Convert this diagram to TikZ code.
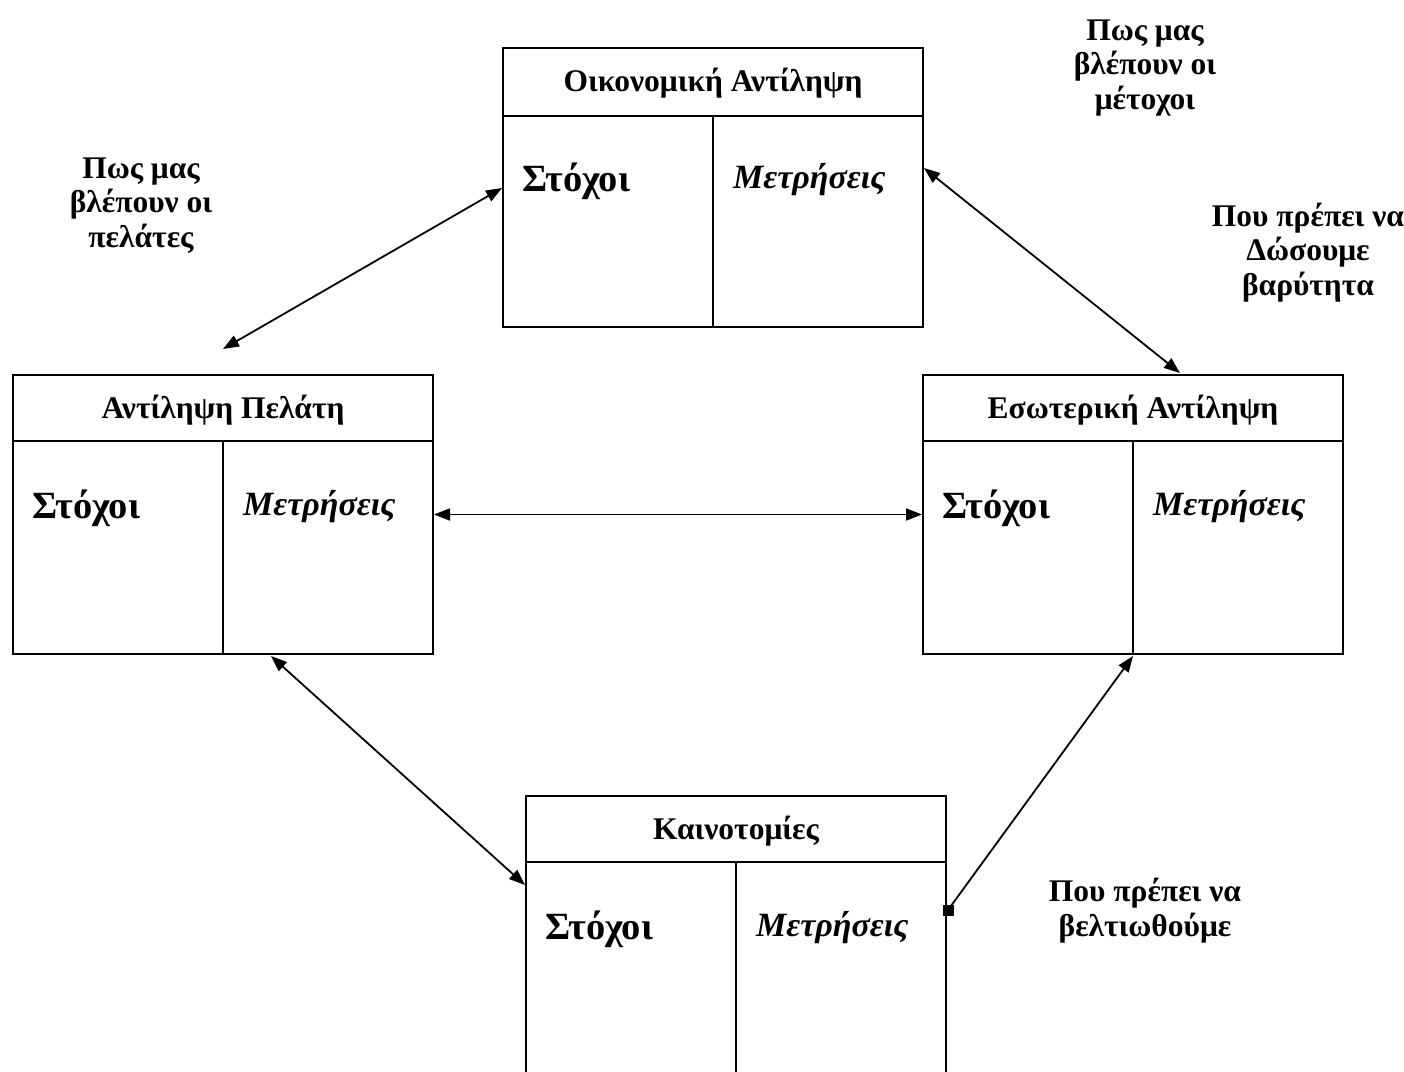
\documentclass[tikz,border=0pt]{standalone}
\usepackage{fontspec}
\setmainfont{Liberation Serif}
\usetikzlibrary{arrows.meta,calc}
\tikzset{
  frame/.style={draw, line width=2pt, minimum width=420pt, inner sep=0pt, anchor=north west},
  rule/.style={line width=2pt},
  title/.style={anchor=base, inner sep=0pt, font=\fontsize{31.5}{35}\selectfont\bfseries},
  goal/.style={anchor=base west, inner sep=0pt, font=\fontsize{38.5}{42}\selectfont\bfseries},
  meas/.style={anchor=base west, inner sep=0pt, font=\fontsize{34}{40}\selectfont\bfseries\itshape},
  note/.style={anchor=base, inner sep=0pt, align=center, font=\fontsize{31.5}{34.5}\selectfont\bfseries},
  conn/.style={line width=1.8pt, {Triangle[length=16pt,width=12pt]}-{Triangle[length=16pt,width=12pt]}},
  endconn/.style={line width=1.8pt, -{Triangle[length=16pt,width=12pt]}},
  sqmark/.style={fill=black, draw=none, minimum size=11pt, inner sep=0pt}
}
% name, x, y, height, divider offset, title
\newcommand{\bscbox}[6]{%
  \node[frame, minimum height=#4pt] (#1) at (#2,#3) {};
  \draw[rule] ($(#1.north west)+(0,#5)$) -- ($(#1.north east)+(0,#5)$);
  \draw[rule] ($(#1.north)+(0,#5)$) -- (#1.south);
  \node[title] (#1-t) at ($(#1.north)+(0,44)$) {#6};
  \node[goal] (#1-g) at ($(#1.north west)+(20,144)$) {Στόχοι};
  \node[meas] (#1-m) at ($(#1.north)+(20,141)$) {Μετρήσεις};
}
\begin{document}
\begin{tikzpicture}[x=1pt,y=-1pt]
\useasboundingbox (0,0) rectangle (1404,1071);
\clip (0,0) rectangle (1404,1071);
\fill[white] (0,0) rectangle (1404,1071);
\bscbox{fin}{502}{47}{279}{69}{Οικονομική Αντίληψη}
\bscbox{cus}{12}{374}{279}{67}{Αντίληψη Πελάτη}
\bscbox{int}{922}{374}{279}{67}{Εσωτερική Αντίληψη}
\bscbox{inn}{525}{795}{300}{67}{Καινοτομίες}

% anchor=base places the last line's baseline
\node[note] (n1) at (141,247) {Πως μας\\βλέπουν οι\\πελάτες};
\node[note] (n2) at (1145,109) {Πως μας\\βλέπουν οι\\μέτοχοι};
\node[note] (n3) at (1308,295) {Που πρέπει να\\Δώσουμε\\βαρύτητα};
\node[note] (n4) at (1145,936) {Που πρέπει να\\βελτιωθούμε};

\coordinate (e1) at (223,349);
\node[sqmark] (sq) at ($(inn.north east)+(1,115)$) {};
\draw[conn] ($(fin.north west)+(0,141)$) -- (e1);
\draw[conn] ($(fin.north east)+(0,121)$) -- ($(int.north)+(47,-1)$);
\draw[conn] (cus.east) -- (int.west);
\draw[conn] ($(cus.south)+(48,1)$) -- ($(inn.north west)+(0,90)$);
\draw[endconn] (sq.center) -- ($(int.south)+(0,1)$);
\end{tikzpicture}
\end{document}
